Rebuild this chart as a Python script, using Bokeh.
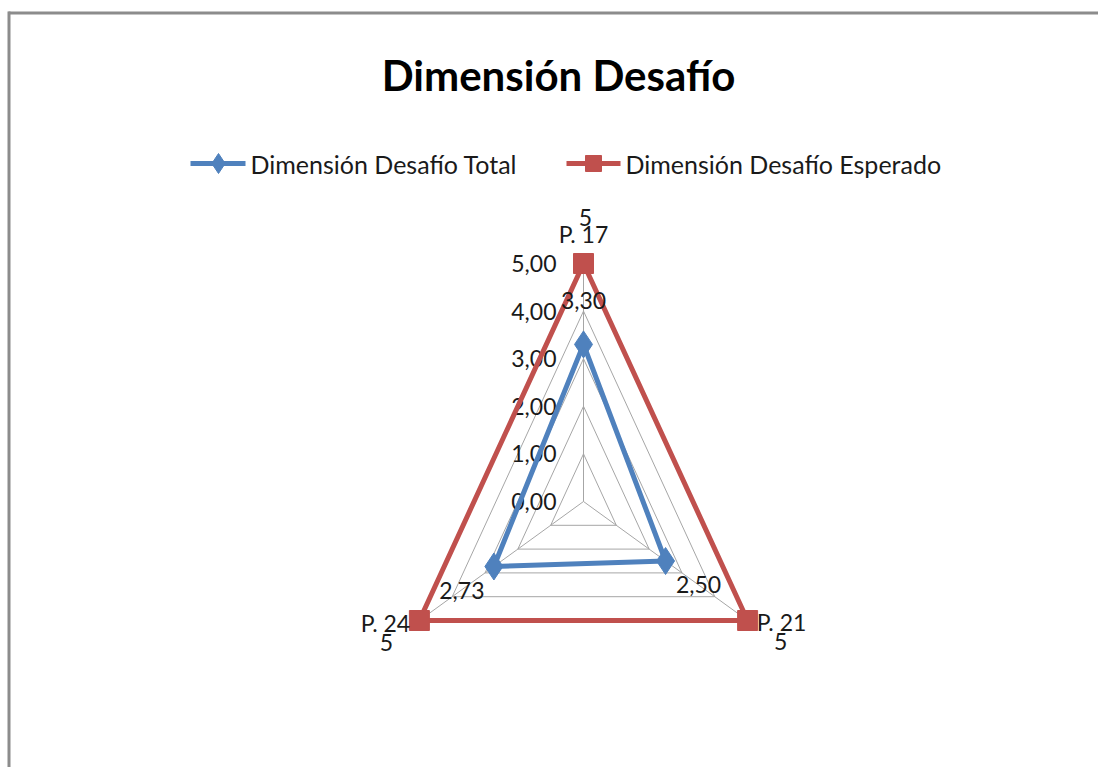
import numpy as np
from bokeh.plotting import figure
from bokeh.models import Range1d
from bokeh.core.properties import value
from bokeh.embed import file_html
from bokeh.resources import INLINE

# ---- data ----
categories = ["P. 17", "P. 21", "P. 24"]
total_values = [3.30, 2.50, 2.73]
expected_values = [5, 5, 5]
ring_values = [0, 1, 2, 3, 4, 5]
ring_labels = ["0,00", "1,00", "2,00", "3,00", "4,00", "5,00"]
total_labels = ["3,30", "2,50", "2,73"]
expected_labels = ["5", "5", "5"]
title_text = "Dimensión Desafío"
series_names = ["Dimensión Desafío Total", "Dimensión Desafío Esperado"]

# ---- layout constants (page pixels) ----
OX, OY = 0, 0              # page position of the canvas
W, H = 1098, 767
CX, CY = 583, 501          # chart centre in page px
SX, SY = 37.9, 47.6        # px per data unit
FONT = "Lato"
BLUE = "#4F81BD"
RED = "#C0504D"
GRID = "#A6A6A6"
TXT = "#1a1a1a"

x0 = (OX - CX) / SX
x1 = (OX + W - CX) / SX
y1 = (CY - OY) / SY
y0 = -(OY + H - CY) / SY

def px(xp):
    return (xp - CX) / SX

def py(yp):
    return (CY - yp) / SY

p = figure(width=W, height=H, x_range=Range1d(x0, x1), y_range=Range1d(y0, y1),
           output_backend="svg", toolbar_location=None, min_border=0)
p.axis.visible = False
p.grid.visible = False
p.outline_line_color = None
p.background_fill_color = "white"
p.border_fill_color = "white"

n = len(categories)
theta = np.array([0.0, 2 * np.pi / 3, 4 * np.pi / 3])  # P.17 top, P.21 bottom-right, P.24 bottom-left

def pol(r):
    r = np.asarray(r, dtype=float)
    return list(r * np.sin(theta)), list(r * np.cos(theta))

# border lines (top and left)
p.line([px(8), px(1098)], [py(12.5), py(12.5)], line_color="#8C8C8C", line_width=3)
p.line([px(8.5), px(8.5)], [py(11), py(767)], line_color="#8C8C8C", line_width=3)

# grid rings
for rv in ring_values[1:]:
    xs, ys = pol([rv] * n)
    p.line(xs + xs[:1], ys + ys[:1], line_color=GRID, line_width=1)
# spokes
xs5, ys5 = pol([max(ring_values)] * n)
for i in range(n):
    p.line([0, xs5[i]], [0, ys5[i]], line_color=GRID, line_width=1)

# axis labels
p.text(x=[0] * len(ring_values), y=ring_values, text=ring_labels,
       x_offset=-27, y_offset=0, text_align="right", text_baseline="middle",
       text_font=value(FONT), text_font_size="23px", text_color=TXT)

# expected series
ex, ey = pol(expected_values)
p.line(ex + ex[:1], ey + ey[:1], line_color=RED, line_width=5)
p.scatter(ex, ey, marker="square", size=20, fill_color=RED, line_color=RED)

# total series
tx, ty = pol(total_values)
p.line(tx + tx[:1], ty + ty[:1], line_color=BLUE, line_width=5)
p.scatter(tx, ty, marker="diamond", size=27, fill_color=BLUE, line_color=BLUE)

# category labels
p.text(x=ex, y=ey, text=categories, x_offset=[0, 34, -34], y_offset=[-30, 1, 2],
       text_align="center", text_baseline="middle",
       text_font=value(FONT), text_font_size="23px", text_color=TXT)

# expected value labels
p.text(x=ex, y=ey, text=expected_labels, x_offset=[2, 33, -33], y_offset=[-46, 21, 22],
       text_align="center", text_baseline="middle",
       text_font=value(FONT), text_font_size="23px", text_color=TXT)

# total value labels
p.text(x=tx, y=ty, text=total_labels, x_offset=[0, 33, -32], y_offset=[-44, 23, 24],
       text_align="center", text_baseline="middle",
       text_font=value(FONT), text_font_size="23px", text_color=TXT)

# title
p.text(x=[px(558)], y=[py(74)], text=[title_text], text_align="center", text_baseline="middle",
       text_font=value(FONT), text_font_style="bold", text_font_size="42px", text_color="black")

# legend
ly = py(163)
p.line([px(190), px(245)], [ly, ly], line_color=BLUE, line_width=5)
p.scatter([px(218)], [ly], marker="diamond", size=20, fill_color=BLUE, line_color=BLUE)
p.text(x=[px(250)], y=[ly], text=[series_names[0]], text_align="left", text_baseline="middle",
       text_font=value(FONT), text_font_size="25px", text_color=TXT)
p.line([px(566), px(620)], [ly, ly], line_color=RED, line_width=5)
p.scatter([px(593)], [ly], marker="square", size=16, fill_color=RED, line_color=RED)
p.text(x=[px(625)], y=[ly], text=[series_names[1]], text_align="left", text_baseline="middle",
       text_font=value(FONT), text_font_size="25px", text_color=TXT)

open("out.html", "w").write(file_html(p, INLINE))
